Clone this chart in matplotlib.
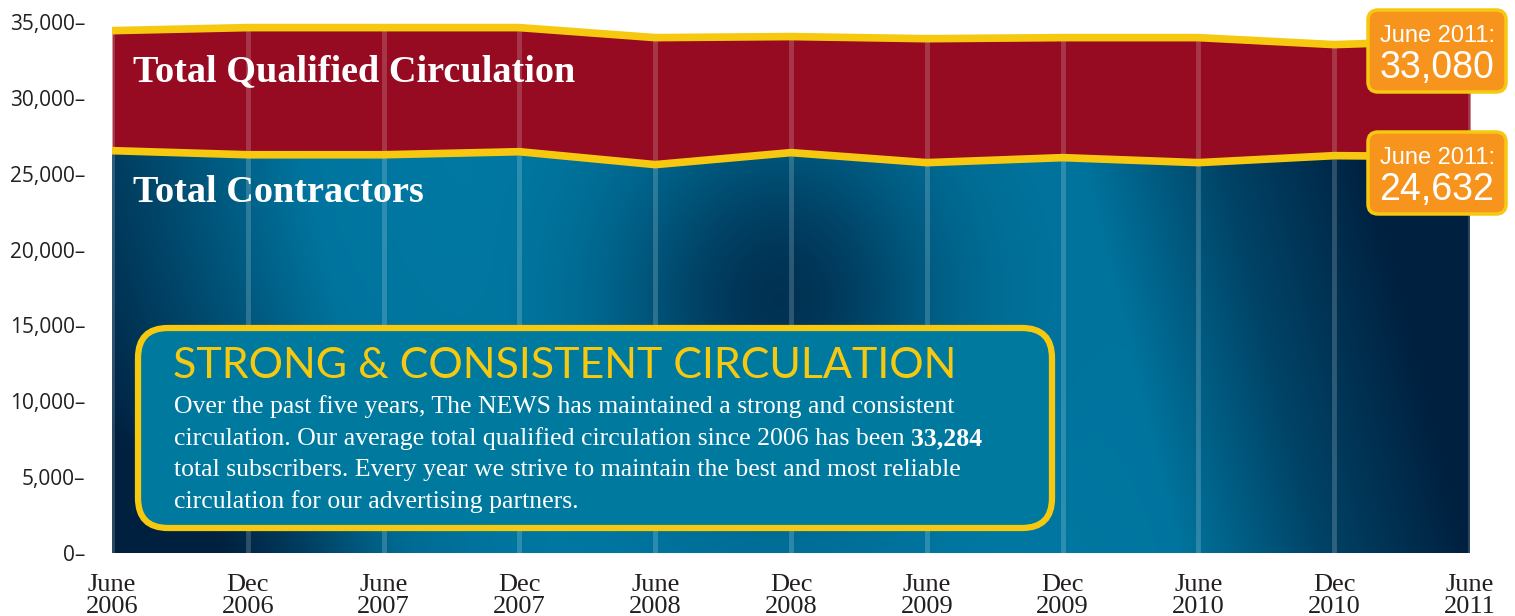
import numpy as np
import matplotlib
matplotlib.use("Agg")
import matplotlib.pyplot as plt
from matplotlib.patches import FancyBboxPatch
from matplotlib.ticker import FuncFormatter
from matplotlib.colors import to_rgb

# data
periods = ["June\n2006", "Dec\n2006", "June\n2007", "Dec\n2007", "June\n2008", "Dec\n2008",
           "June\n2009", "Dec\n2009", "June\n2010", "Dec\n2010", "June\n2011"]
qualified = [34430, 34630, 34630, 34630, 33970, 34040, 33900, 33970, 33970, 33510, 33800]
contractors = [26520, 26250, 26250, 26450, 25600, 26390, 25730, 26060, 25730, 26190, 26120]
yticks = [0, 5000, 10000, 15000, 20000, 25000, 30000, 35000]

RED = "#960a22"
YELLOW = "#f6c910"
ORANGE = "#f7941d"
TEAL = np.array(to_rgb("#0079a3"))
NAVY = np.array(to_rgb("#00203f"))

x = np.arange(len(periods))

fig = plt.figure(figsize=(15.15, 6.16), dpi=100)
ax = fig.add_axes([112 / 1515, 63 / 616, 1358 / 1515, 531 / 616])
ax.set_xlim(0, len(periods) - 1)
ax.set_ylim(0, 35000)

# red band
ax.fill_between(x, contractors, qualified, color=RED, lw=0, zorder=1)

# blue area with a shaded background
blue = ax.fill_between(x, 0, contractors, color="none", lw=0, zorder=1)
nx, ny = 700, 300
gx = np.linspace(0, len(periods) - 1, nx)
gy = np.linspace(35000, 0, ny)
X, Y = np.meshgrid(gx, gy)
px = 112 + X * 135.8
py = 553 - Y / 5000 * 75.8
prof_x = [112, 250, 400, 560, 620, 980, 1180, 1320, 1470]
prof_t = [0.0, 0.45, 0.95, 1.0, 1.0, 1.0, 0.95, 0.4, 0.0]
t = np.interp(px + (553 - py) * 0.25, prof_x, prof_t)
t = t - 0.8 * np.exp(-(((px - 780) / 160) ** 2 + ((py - 300) / 180) ** 2))
t = t - 0.35 * np.exp(-(((px - 230) / 170) ** 2 + ((py - 560) / 140) ** 2))
t = np.clip(t, 0, 1)
img = NAVY[None, None, :] * (1 - t[..., None]) + TEAL[None, None, :] * t[..., None]
im = ax.imshow(img, extent=[0, len(periods) - 1, 0, 35000], aspect="auto", zorder=1,
               interpolation="bilinear")
im.set_clip_path(blue.get_paths()[0], transform=ax.transData)

# light vertical separators
ax.vlines(x, 0, qualified, colors="white", alpha=0.18, lw=3.5, zorder=2)

# yellow boundary lines
ax.plot(x, qualified, color=YELLOW, lw=5.5, zorder=3, solid_joinstyle="miter")
ax.plot(x, contractors, color=YELLOW, lw=5.5, zorder=3, solid_joinstyle="miter")

ax.set_xticks(x)
ax.set_xticklabels(periods, fontfamily="Liberation Serif", fontsize=19, color="#231f20",
                   linespacing=1.0)
ax.set_yticks(yticks)
ax.yaxis.set_major_formatter(FuncFormatter(lambda v, p: f"{int(v):,}\u2013"))
for lab in ax.get_yticklabels():
    lab.set_fontfamily("Open Sans")
    lab.set_fontsize(15)
    lab.set_color("#231f20")
ax.tick_params(axis="both", length=0)
ax.tick_params(axis="x", pad=15)
ax.tick_params(axis="y", pad=19)
for s in ax.spines.values():
    s.set_visible(False)

inch = fig.dpi_scale_trans
H = 6.16

# series names
fig.text(1.33, H - 0.72, "Total Qualified Circulation", transform=inch, color="white",
         fontfamily="Liberation Serif", fontweight="bold", fontsize=27.5, va="center")
fig.text(1.33, H - 1.93, "Total Contractors", transform=inch, color="white",
         fontfamily="Liberation Serif", fontweight="bold", fontsize=27.5, va="center")

# text box
box = FancyBboxPatch((1.38, H - 5.28), 9.14, 2.0, boxstyle="round,pad=0,rounding_size=0.3",
                     transform=inch, fc="#00799f", ec=YELLOW, lw=4.5, zorder=5)
fig.add_artist(box)
fig.text(1.73, H - 3.66, "STRONG & CONSISTENT CIRCULATION", transform=inch, color=YELLOW,
         fontfamily="Lato", fontweight="normal", fontsize=31, va="center", zorder=6)
body = ["Over the past five years, The NEWS has maintained a strong and consistent",
        "circulation. Our average total qualified circulation since 2006 has been ",
        "total subscribers. Every year we strive to maintain the best and most reliable",
        "circulation for our advertising partners."]
for i, line in enumerate(body):
    t_ = fig.text(1.74, H - 4.07 - i * 0.315, line, transform=inch, color="white",
                  fontfamily="Liberation Serif", fontsize=18.5, va="center", zorder=6)
    if i == 1:
        fig.add_artist(plt.Annotation("33,284", xy=(1, 0.5), xycoords=t_, va="center",
                                      ha="left", color="white", fontfamily="Liberation Serif",
                                      fontweight="bold", fontsize=18.5, zorder=6))

# value callouts
for top, value in [(H - 0.10, "33,080"), (H - 1.32, "24,632")]:
    callout = FancyBboxPatch((13.68, top - 0.82), 1.38, 0.82,
                             boxstyle="round,pad=0,rounding_size=0.1", transform=inch,
                             fc=ORANGE, ec=YELLOW, lw=2.5, zorder=7)
    fig.add_artist(callout)
    fig.text(14.37, top - 0.26, "June 2011:", transform=inch, color="white",
             fontfamily="Liberation Sans", fontsize=17, ha="center", va="center", zorder=8)
    fig.text(14.37, top - 0.58, value, transform=inch, color="white",
             fontfamily="Liberation Sans", fontsize=27, ha="center", va="center", zorder=8)

fig.savefig("out.png", dpi=100)
